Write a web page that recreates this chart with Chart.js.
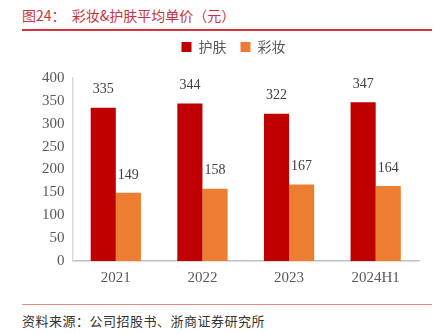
<!DOCTYPE html>
<html><head><meta charset="utf-8">
<script src="https://cdn.jsdelivr.net/npm/chart.js@4/dist/chart.umd.min.js"></script>
<style>
html,body{margin:0;padding:0;background:#fff;width:438px;height:334px;overflow:hidden;}
#title{position:absolute;left:22px;top:5px;font-family:"Noto Sans CJK SC";font-size:14px;color:#C8323A;white-space:pre;}
#line1{position:absolute;left:22px;top:29px;width:410px;height:2px;background:#D2343A;}
#line2{position:absolute;left:22px;top:304px;width:410px;height:1px;background:#E88A8A;}
#src{position:absolute;left:22px;top:311px;font-family:"Noto Sans CJK SC";font-size:13px;letter-spacing:0.5px;color:#333;}
#wrap{position:absolute;left:0;top:26px;width:438px;height:269px;}
</style></head>
<body>
<div id="title">图24：  彩妆&amp;护肤平均单价（元）</div>
<div id="line1"></div>
<div id="wrap"><canvas id="c"></canvas></div>
<div id="line2"></div>
<div id="src">资料来源：公司招股书、浙商证券研究所</div>
<script>
const categories = ["2021","2022","2023","2024H1"];
const skincare = [335,344,322,347];
const makeup = [149,158,167,164];
const seriesNames = ["护肤","彩妆"];

const labelPlugin = {
  id:'vals',
  afterDatasetsDraw(chart){
    const ctx = chart.ctx;
    ctx.save();
    ctx.font = '14px "Liberation Serif"';
    ctx.fillStyle = '#404040';
    ctx.textAlign = 'center';
    ctx.textBaseline = 'middle';
    chart.data.datasets.forEach((ds,i)=>{
      chart.getDatasetMeta(i).data.forEach((bar,j)=>{
        ctx.fillText(String(ds.data[j]), bar.x, bar.y - 18);
      });
    });
    ctx.restore();
  }
};
const legendGap = {
  id:'legendGap',
  beforeInit(chart){
    const orig = chart.legend.fit;
    chart.legend.fit = function(){ orig.bind(chart.legend)(); this.height += 14; };
  },
  afterLayout(chart){
    chart.legend.left += 7;
    chart.legend.right += 7;
  }
};

new Chart(document.getElementById('c'),{
  type:'bar',
  data:{labels:categories,datasets:[
    {label:seriesNames[0],data:skincare,backgroundColor:'#C00000'},
    {label:seriesNames[1],data:makeup,backgroundColor:'#ED7D31'}
  ]},
  options:{
    responsive:true,maintainAspectRatio:false,animation:false,
    layout:{padding:{left:34,right:19,top:0,bottom:0}},
    datasets:{bar:{categoryPercentage:0.58,barPercentage:1}},
    plugins:{
      legend:{position:'top',labels:{boxWidth:10,boxHeight:10,font:{family:'"Noto Sans CJK SC"',size:14},color:'#595959',padding:14}},
      tooltip:{enabled:false}
    },
    scales:{
      x:{grid:{display:false,drawTicks:false},border:{color:'#BFBFBF',width:1.5},
         ticks:{font:{family:'"Liberation Serif"',size:15},color:'#595959',padding:8}},
      y:{min:0,max:400,grid:{display:false,drawTicks:false},border:{color:'#D9D9D9',width:1.5},
         ticks:{stepSize:50,font:{family:'"Liberation Serif"',size:15},color:'#595959',padding:8}}
    }
  },
  plugins:[legendGap,labelPlugin]
});
</script>
</body></html>
